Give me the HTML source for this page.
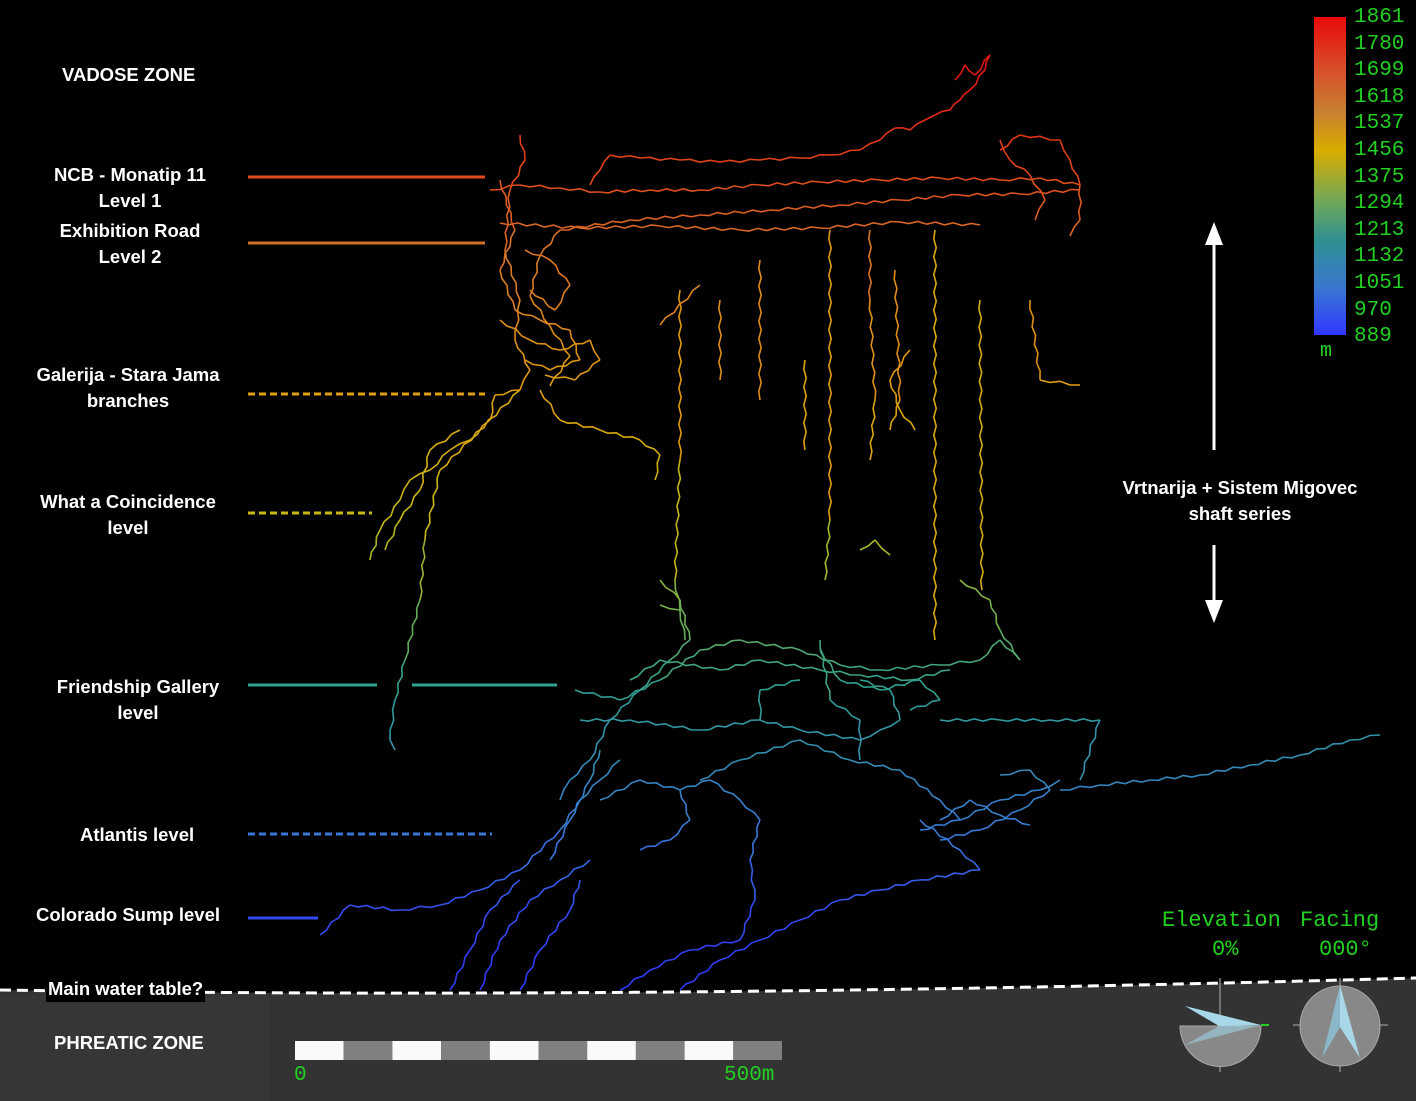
<!DOCTYPE html>
<html><head><meta charset="utf-8">
<style>
html,body{margin:0;padding:0;background:#000;}
#root{position:relative;width:1416px;height:1101px;overflow:hidden;background:#000;font-family:"Liberation Sans",sans-serif;}
.lbl{position:absolute;color:#fff;font-weight:bold;font-size:18.5px;text-align:center;line-height:26px;white-space:nowrap;}
.mono{font-family:"Liberation Mono","DejaVu Sans Mono",monospace;color:#22d022;}
</style></head>
<body>
<div id="root">
<svg id="svg" width="1416" height="1101" style="position:absolute;left:0;top:0">
  <defs>
    <linearGradient id="cbar" x1="0" y1="0" x2="0" y2="1">
      <stop offset="0" stop-color="#e80a0a"/>
      <stop offset="0.17" stop-color="#d8502a"/>
      <stop offset="0.3" stop-color="#c88030"/>
      <stop offset="0.42" stop-color="#d8ac00"/>
      <stop offset="0.58" stop-color="#70a858"/>
      <stop offset="0.7" stop-color="#309090"/>
      <stop offset="0.85" stop-color="#3878d0"/>
      <stop offset="1" stop-color="#3038ff"/>
    </linearGradient>
  </defs>
  <path d="M0,990 Q640,1000 1416,978 L1416,1101 L0,1101 Z" fill="#333"/>
  <rect x="0" y="995" width="270" height="106" fill="#363636"/>
  <g id="cave"></g>
  <path d="M0,990 Q640,1000 1416,978" fill="none" stroke="#fff" stroke-width="3" stroke-dasharray="11,6"/>
  <rect x="1314" y="17" width="32" height="318" fill="url(#cbar)"/>
  <g>
    <line x1="248" y1="177" x2="485" y2="177" stroke="#e04a1a" stroke-width="3"/>
    <line x1="248" y1="243" x2="485" y2="243" stroke="#d0702a" stroke-width="3"/>
    <line x1="248" y1="394" x2="485" y2="394" stroke="#e0a010" stroke-width="3" stroke-dasharray="7,4"/>
    <line x1="248" y1="513" x2="372" y2="513" stroke="#c8b814" stroke-width="3" stroke-dasharray="7,4"/>
    <line x1="248" y1="685" x2="377" y2="685" stroke="#30a090" stroke-width="3"/>
    <line x1="412" y1="685" x2="557" y2="685" stroke="#30a090" stroke-width="3"/>
    <line x1="248" y1="834" x2="492" y2="834" stroke="#3a78d8" stroke-width="3" stroke-dasharray="7,4"/>
    <line x1="248" y1="918" x2="318" y2="918" stroke="#3448f0" stroke-width="3"/>
  </g>
  <g stroke="#fff" stroke-width="3" fill="#fff">
    <line x1="1214" y1="240" x2="1214" y2="450"/>
    <polygon points="1205,245 1214,222 1223,245" stroke="none"/>
    <line x1="1214" y1="545" x2="1214" y2="605"/>
    <polygon points="1205,600 1214,623 1223,600" stroke="none"/>
  </g>
  <g id="scalebar"></g>
  <g>
    <line x1="1220" y1="978" x2="1220" y2="1072" stroke="#888" stroke-width="1.5"/>
    <path d="M1180,1026 L1261,1026 A40.5,40.5 0 0 1 1180,1026 Z" fill="#888" stroke="#aaa"/>
    <polygon points="1185,1006 1261,1025 1219,1026" fill="#a8d8e8"/>
    <polygon points="1261,1025 1185,1045 1219,1026" fill="#9ac8d8" opacity="0.7"/>
    <line x1="1261" y1="1025" x2="1269" y2="1025" stroke="#22d022" stroke-width="2"/>
  </g>
  <g>
    <line x1="1340" y1="978" x2="1340" y2="1072" stroke="#888" stroke-width="1.5"/>
    <line x1="1293" y1="1025" x2="1388" y2="1025" stroke="#888" stroke-width="1.5"/>
    <circle cx="1340" cy="1026" r="40" fill="#888" stroke="#aaa"/>
    <polygon points="1340,985 1322,1058 1340,1027" fill="#8ab8c8"/>
    <polygon points="1340,985 1360,1058 1340,1027" fill="#a8d8e8"/>
  </g>
</svg>

<div class="lbl" style="left:62px;top:62px">VADOSE ZONE</div>
<div class="lbl" style="left:30px;top:162px;width:200px">NCB - Monatip 11<br>Level 1</div>
<div class="lbl" style="left:30px;top:218px;width:200px">Exhibition Road<br>Level 2</div>
<div class="lbl" style="left:28px;top:362px;width:200px">Galerija - Stara Jama<br>branches</div>
<div class="lbl" style="left:28px;top:489px;width:200px">What a Coincidence<br>level</div>
<div class="lbl" style="left:38px;top:674px;width:200px">Friendship Gallery<br>level</div>
<div class="lbl" style="left:80px;top:822px">Atlantis level</div>
<div class="lbl" style="left:36px;top:902px">Colorado Sump level</div>
<div class="lbl" style="left:46px;top:976px;background:#000;padding:0 2px">Main water table?</div>
<div class="lbl" style="left:54px;top:1030px">PHREATIC ZONE</div>
<div class="lbl" style="left:1110px;top:475px;width:260px">Vrtnarija + Sistem Migovec<br>shaft series</div>

<div id="ticks"></div>
<div class="mono" style="position:absolute;left:1320px;top:340px;font-size:20px">m</div>
<div class="mono" style="position:absolute;left:1162px;top:908px;font-size:22px">Elevation</div>
<div class="mono" style="position:absolute;left:1212px;top:937px;font-size:22px">0%</div>
<div class="mono" style="position:absolute;left:1300px;top:908px;font-size:22px">Facing</div>
<div class="mono" style="position:absolute;left:1319px;top:937px;font-size:22px">000°</div>
<div class="mono" style="position:absolute;left:294px;top:1064px;font-size:21px">0</div>
<div class="mono" style="position:absolute;left:724px;top:1064px;font-size:21px">500m</div>

<script>
// legend tick labels (m)
const legendTicks = [1861,1780,1699,1618,1537,1456,1375,1294,1213,1132,1051,970,889];
// scale bar segments (m)
const scaleSegments = [0,50,100,150,200,250,300,350,400,450];
// survey passages: [easting m, altitude m]
const passTop = [[655,1836],[665,1851],[675,1841],[690,1861],[685,1846],[670,1826],[660,1816],[650,1806],[635,1801],[625,1796],[610,1786],[595,1788],[580,1776],[560,1766],[530,1761],[500,1758],[460,1756],[420,1754],[380,1756],[340,1758],[310,1761],[300,1746],[290,1731]];
const passLevel1 = [[190,1726],[220,1731],[260,1728],[300,1724],[350,1726],[400,1726],[460,1731],[520,1734],[580,1736],[640,1738],[700,1736],[740,1738],[780,1731]];
const passLevel2 = [[260,1686],[330,1696],[400,1701],[470,1706],[540,1711],[600,1716],[660,1721],[720,1722],[780,1726]];
const passLevel2b = [[200,1693],[280,1688],[360,1690],[440,1686],[520,1688],[600,1694],[680,1691]];
const passRight = [[700,1766],[720,1781],[760,1776],[770,1756],[780,1731],[780,1696],[770,1680]];
const passRight2 = [[700,1776],[710,1756],[730,1741],[745,1716],[735,1696]];
const passLeft = [[220,1781],[225,1756],[210,1726],[205,1666],[220,1616],[215,1576],[230,1546],[220,1526],[195,1521],[190,1496],[170,1476],[150,1466],[130,1446],[110,1436],[100,1416],[80,1386],[70,1356]];
const passLeft2 = [[200,1736],[215,1686],[200,1646],[215,1606],[240,1596],[270,1586],[280,1556],[250,1546],[225,1556]];
const passTangle = [[200,1596],[230,1576],[260,1566],[290,1576],[300,1556],[275,1536],[245,1541]];
const passTangle2 = [[230,1626],[255,1606],[270,1631],[250,1656],[225,1666]];
const passGalerija = [[240,1526],[260,1496],[300,1486],[340,1476],[360,1461],[355,1436]];
const passLeftShaft = [[220,1526],[140,1446],[125,1376],[120,1316],[105,1256],[95,1216],[90,1176],[95,1166]];
const passLeftW = [[160,1486],[130,1466],[120,1426],[100,1396],[85,1366]];
const passWest = [[260,1686],[240,1660],[230,1620],[250,1590],[270,1560],[250,1530]];
const passShafts = [
  [[380,1626],[380,1456],[375,1336],[380,1306]],
  [[420,1616],[420,1536]],
  [[530,1686],[530,1396],[525,1336]],
  [[570,1686],[570,1616],[575,1516],[570,1456]],
  [[595,1646],[600,1516],[590,1486]],
  [[635,1686],[635,1276]],
  [[680,1616],[682,1326]],
  [[730,1616],[740,1536],[780,1531]],
  [[460,1656],[460,1516]],
  [[505,1556],[505,1466]],
  [[400,1631],[360,1591]],
  [[610,1566],[590,1536],[600,1506],[615,1486]],
  [[360,1311],[380,1306],[385,1276]],
  [[560,1366],[575,1376],[590,1361]]
];
const passFriend = [[275,1226],[320,1216],[360,1236],[400,1266],[440,1276],[500,1266],[540,1251],[580,1246],[640,1251],[680,1256],[700,1276],[720,1256]];
const passFriend2 = [[330,1236],[360,1256],[420,1246],[460,1256],[520,1246],[560,1241],[610,1236],[650,1246]];
const passFriend3 = [[520,1266],[540,1236],[580,1226],[620,1236],[640,1216],[610,1206]];
const passFriendW = [[360,1336],[380,1316],[390,1276],[370,1256],[340,1226],[310,1196],[290,1156],[270,1136],[260,1116]];
const passFriendC = [[520,1276],[530,1216],[560,1196],[560,1156]];
const passEast = [[640,1196],[700,1196],[750,1196],[800,1196],[780,1136]];
const passLongE = [[760,1126],[800,1131],[850,1136],[900,1141],[950,1151],[1000,1161],[1050,1176],[1080,1181]];
const passBlueE = [[620,1086],[660,1096],[700,1116],[740,1126],[760,1136]];
const passBlueE2 = [[640,1076],[680,1086],[720,1106],[750,1126],[730,1146],[700,1141]];
const passBlueE3 = [[640,1096],[670,1116],[700,1101],[730,1091]];
const passBlueS = [[620,1096],[660,1066],[680,1046],[620,1036],[580,1026],[540,1016],[500,996],[460,976],[420,956],[380,926]];
const passColorado = [[20,981],[50,1011],[100,1006],[140,1011],[180,1026],[220,1046],[260,1086],[280,1116],[300,1136],[320,1156]];
const passSW1 = [[150,926],[170,966],[190,1006],[220,1036]];
const passSW2 = [[180,926],[200,976],[230,1016],[260,1036],[290,1056]];
const passSW3 = [[220,926],[240,966],[270,1006],[280,1036]];
const passSW4 = [[250,1056],[270,1096],[290,1136],[300,1166]];
const passS = [[320,926],[350,946],[390,966],[440,976],[455,1016],[450,1056],[460,1096],[440,1116],[410,1136],[380,1126]];
const passLoop = [[300,1116],[340,1136],[380,1126],[390,1096],[370,1076],[340,1066]];
const passMid = [[400,1136],[440,1156],[500,1176],[550,1156],[600,1146],[640,1116],[660,1096]];
const passUpperBlue = [[280,1196],[330,1196],[400,1186],[460,1196],[500,1186],[560,1176]];
const passUB2 = [[460,1196],[460,1226],[500,1236]];
const passE2 = [[660,1336],[690,1316],[700,1286],[720,1256]];
const passFS = [[560,1176],[580,1186],[600,1196],[590,1226],[560,1236]];

const allPassages = [passTop,passLevel1,passLevel2,passLevel2b,passRight,passRight2,passLeft,passLeft2,passTangle,passTangle2,passGalerija,passLeftShaft,passLeftW,passWest,...passShafts,passFriend,passFriend2,passFriend3,passFriendW,passFriendC,passEast,passLongE,passBlueE,passBlueE2,passBlueE3,passBlueS,passColorado,passSW1,passSW2,passSW3,passSW4,passS,passLoop,passMid,passUpperBlue,passUB2,passE2,passFS];

function xScale(e){return 300+e;}
function yScale(a){return 1916-a;}
const cStops=[[1861,[224,16,16]],[1739,[224,74,26]],[1673,[216,112,42]],[1522,[224,160,16]],[1403,[200,184,20]],[1300,[112,176,80]],[1231,[48,160,144]],[1082,[58,120,216]],[998,[52,72,240]],[900,[48,48,255]]];
function color(a){
  if(a>=cStops[0][0]) return 'rgb(224,16,16)';
  for(let i=0;i<cStops.length-1;i++){
    const [a0,c0]=cStops[i],[a1,c1]=cStops[i+1];
    if((a<=a0&&a>=a1)||i==cStops.length-2){
      let t=Math.max(0,Math.min(1,(a0-a)/(a0-a1)));
      return 'rgb('+c0.map((v,k)=>Math.round(v+(c1[k]-v)*t)).join(',')+')';
    }
  }
}
const NS='http://www.w3.org/2000/svg';
const cave=document.getElementById('cave');
allPassages.forEach(p=>{
  for(let i=0;i<p.length-1;i++){
    const x1=xScale(p[i][0]),y1=yScale(p[i][1]),x2=xScale(p[i+1][0]),y2=yScale(p[i+1][1]);
    const len=Math.hypot(x2-x1,y2-y1);
    const n=Math.max(1,Math.round(len/9));
    const nx=-(y2-y1)/(len||1),ny=(x2-x1)/(len||1);
    let pts=[];
    for(let k=0;k<=n;k++){
      const t=k/n;
      const off=(k==0||k==n)?0:((k%2)?1.2:-1.2);
      pts.push((x1+(x2-x1)*t+nx*off).toFixed(1)+','+(y1+(y2-y1)*t+ny*off).toFixed(1));
    }
    const l=document.createElementNS(NS,'polyline');
    
    
    l.setAttribute('points',pts.join(' '));
    l.setAttribute('fill','none');
    l.setAttribute('stroke',color((p[i][1]+p[i+1][1])/2));
    l.setAttribute('stroke-width','1.6');
    cave.appendChild(l);
  }
});
// legend ticks
const ticks=document.getElementById('ticks');
legendTicks.forEach((v,i)=>{
  const d=document.createElement('div');
  
  
  d.className='mono';
  d.style.cssText='position:absolute;left:1354px;top:'+(6+i*26.6)+'px;font-size:21px';
  d.textContent=v;
  ticks.appendChild(d);
});
// scale bar
const sb=document.getElementById('scalebar');
scaleSegments.forEach((m,i)=>{
  const r=document.createElementNS(NS,'rect');
  
  
  r.setAttribute('x',295+m*0.974);r.setAttribute('y',1041);
  r.setAttribute('width',48.7);r.setAttribute('height',19);
  r.setAttribute('fill',i%2==0?'#fafafa':'#808080');
  sb.appendChild(r);
});
</script>
</div>
</body></html>
